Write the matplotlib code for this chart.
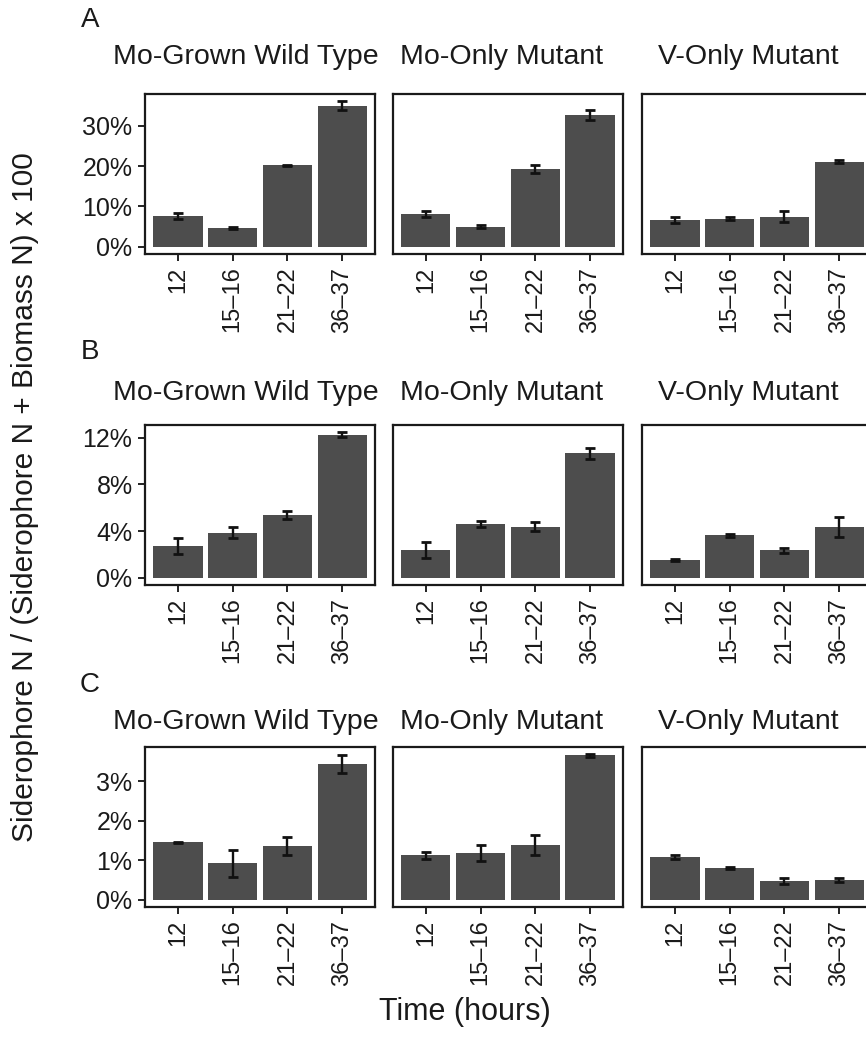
import matplotlib
matplotlib.use("Agg")
import matplotlib.pyplot as plt
from matplotlib.ticker import FuncFormatter

plt.rcParams['font.family'] = ['Liberation Sans', 'DejaVu Sans']

# ---------------- data ----------------
strains = ["Mo-Grown Wild Type", "Mo-Only Mutant", "V-Only Mutant"]
times = ["12", "15\u201316", "21\u201322", "36\u201337"]
row_labels = ["A", "B", "C"]

A_mean = [[7.65, 4.7, 20.2, 35.0], [8.1, 5.0, 19.3, 32.7], [6.7, 7.0, 7.5, 21.1]]
A_err = [[0.8, 0.2, 0.2, 1.1], [0.8, 0.3, 1.1, 1.3], [0.8, 0.3, 1.3, 0.4]]
B_mean = [[2.7, 3.85, 5.4, 12.26], [2.35, 4.63, 4.38, 10.65], [1.5, 3.62, 2.35, 4.38]]
B_err = [[0.7, 0.47, 0.34, 0.2], [0.67, 0.25, 0.41, 0.48], [0.07, 0.1, 0.22, 0.86]]
C_mean = [[1.45, 0.92, 1.36, 3.43], [1.12, 1.18, 1.38, 3.65], [1.08, 0.8, 0.47, 0.5]]
C_err = [[0.02, 0.35, 0.22, 0.23], [0.1, 0.2, 0.25, 0.03], [0.04, 0.02, 0.07, 0.06]]

A_ticks = [0, 10, 20, 30]
B_ticks = [0, 4, 8, 12]
C_ticks = [0, 1, 2, 3]

rows = [(A_mean, A_err, A_ticks), (B_mean, B_err, B_ticks), (C_mean, C_err, C_ticks)]

# ---------------- layout (pixels) ----------------
W, H = 866, 1045
fig = plt.figure(figsize=(W / 100, H / 100), dpi=100)

panel_left = [145, 393, 642]
panel_w = 230
panel_tops = [94, 425, 747]
panel_h = 160
title_y = [57, 393, 722]
title_cx = [246, 502, 748]
label_y = [20, 352, 685]

bar_color = "#4D4D4D"
txt = "#1A1A1A"


def px2fig(x, y, w=0, h=0):
    return [x / W, 1 - (y + h) / H, w / W, h / H]


for r, (means, errs, yt) in enumerate(rows):
    top_val = max(m + e for mm, ee in zip(means, errs) for m, e in zip(mm, ee))
    ylim = (-0.05 * top_val, 1.05 * top_val)
    for c in range(3):
        ax = fig.add_axes(px2fig(panel_left[c], panel_tops[r], panel_w, panel_h))
        x = list(range(1, len(times) + 1))
        ax.bar(x, means[c], width=0.9, color=bar_color, zorder=2)
        ax.errorbar(x, means[c], yerr=errs[c], fmt="none", ecolor="#111111",
                    elinewidth=1.7, capsize=3.4, capthick=2.0, zorder=3)
        ax.set_xlim(0.4, 4.6)
        ax.set_ylim(*ylim)
        ax.set_xticks(x)
        ax.set_xticklabels(times, rotation=90, fontsize=17, color=txt,
                           ha="center", va="top")
        ax.set_yticks(yt)
        if c == 0:
            ax.yaxis.set_major_formatter(FuncFormatter(lambda v, p: f"{v:g}%"))
            ax.tick_params(axis="y", labelsize=18, labelcolor=txt, length=5,
                           width=1.4, color="#222222", pad=4)
        else:
            ax.tick_params(axis="y", left=False, labelleft=False)
        ax.tick_params(axis="x", length=5, width=1.4, color="#222222", pad=4)
        for s in ax.spines.values():
            s.set_linewidth(1.6)
            s.set_color("#1A1A1A")
        ax.set_facecolor("white")
        fig.text(title_cx[c] / W, 1 - title_y[r] / H, strains[c],
                 ha="center", va="center", fontsize=20.5, color=txt)
    fig.text(90 / W, 1 - label_y[r] / H, row_labels[r], ha="center",
             va="center", fontsize=20, color=txt)

fig.text(25 / W, 1 - 497 / H,
         "Siderophore N / (Siderophore N + Biomass N) x 100",
         rotation=90, ha="center", va="center", fontsize=21.5, color=txt)
fig.text(465 / W, 1 - 1012 / H, "Time (hours)", ha="center", va="center",
         fontsize=22, color=txt)

fig.savefig("out.png", dpi=100, facecolor="white")
